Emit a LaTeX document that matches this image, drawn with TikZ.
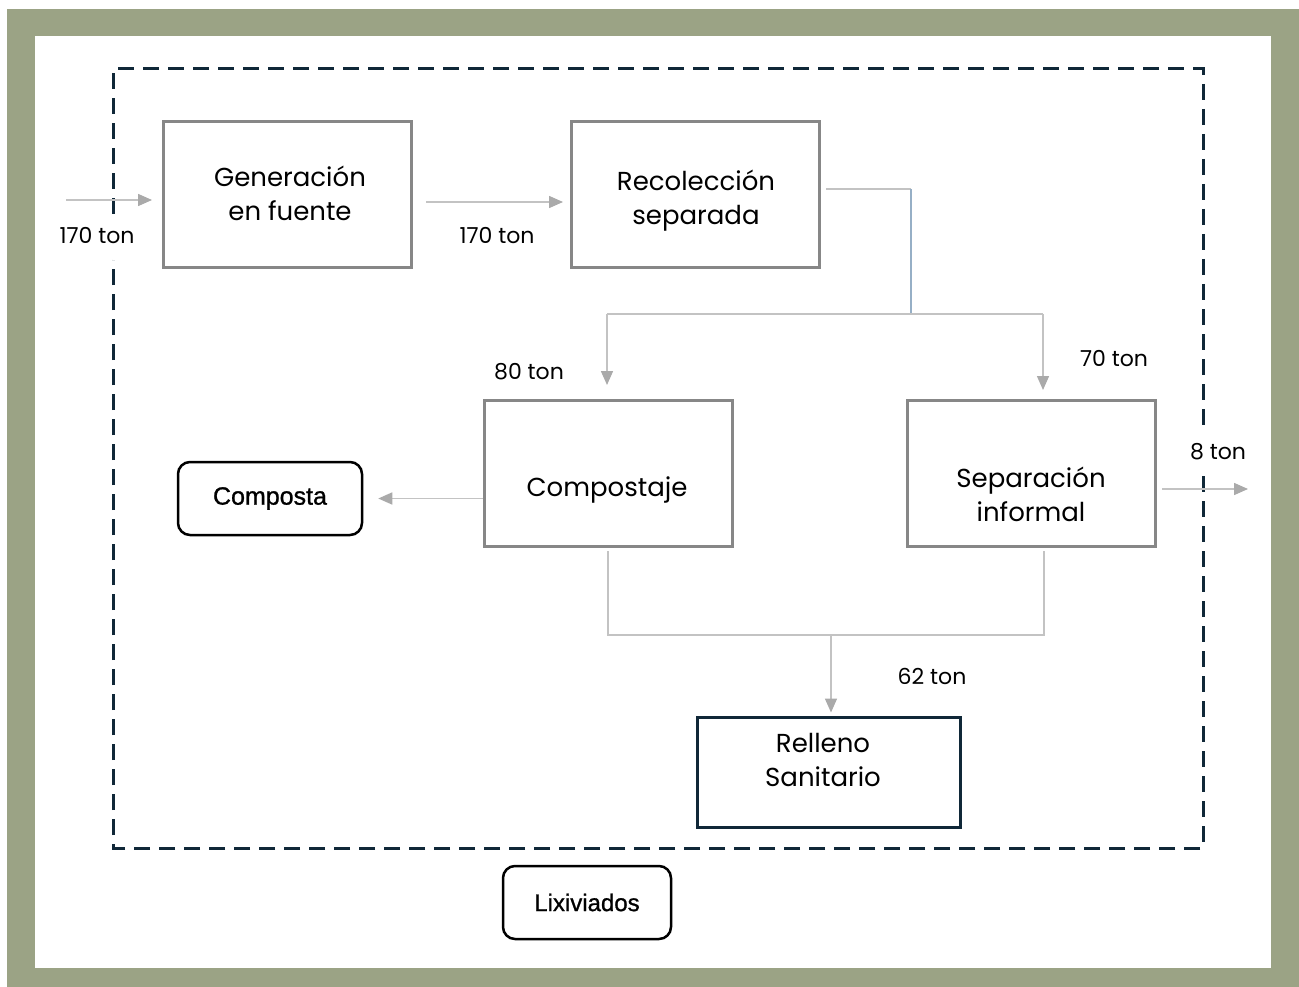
\documentclass[tikz,border=0pt]{standalone}
\usepackage{fontspec}
\setmainfont{Poppins}
\newfontfamily\cajafont[FakeBold=1]{Liberation Sans}
\usepackage{tikz}
\usetikzlibrary{arrows.meta}
\usepackage{xcolor}
\definecolor{marco}{RGB}{155,163,133}
\definecolor{marino}{RGB}{16,40,56}
\definecolor{borde}{RGB}{135,135,135}
\definecolor{trazo}{RGB}{195,195,195}
\definecolor{punta}{RGB}{170,170,170}
\definecolor{acero}{RGB}{150,175,198}

\begin{document}
\begin{tikzpicture}[x=1pt, y=-1pt,
  caja/.style={draw=borde, line width=3pt, minimum width=248pt, minimum height=146pt},
  texto/.style={align=center, font=\fontsize{26}{34}\selectfont},
  dato/.style={inner sep=4pt, font=\fontsize{22}{24}\selectfont},
  salida/.style={draw=black, line width=2.5pt, rounded corners=12pt, minimum width=184pt, minimum height=73pt, font=\cajafont\fontsize{25}{26}\selectfont},
  limite/.style={draw=marino, line width=3pt, dash pattern=on 16pt off 9pt},
  linea/.style={draw=trazo, line width=1.5pt},
  flujo/.style={linea, -{Triangle[length=14pt, width=12pt, color=punta]}}]
\useasboundingbox (0,0) rectangle (1299,987);

% Frame
\fill[white] (0,0) rectangle (1299,987);
\fill[marco] (7,9) rectangle (1299,987);
\fill[white] (35,36) rectangle (1271,968);

% System boundary (open where the amounts cross it)
\draw[limite] (113,214) -- (113,69) -- (1203,69) -- (1203,432);
\draw[limite] (1203,476) -- (1203,848) -- (113,848) -- (113,260);

% Stages
\node[caja] (gen) at (287.5,194.5) {};
\node[texto] (gen-txt) at (290,193) {Generación\\en fuente};
\node[caja] (rec) at (695.5,194.5) {};
\node[texto] (rec-txt) at (696,201) {Recolección\\separada};
\node[caja] (comp) at (608.5,473.5) {};
\node[texto] (comp-txt) at (607,490) {Compostaje};
\node[caja] (sep) at (1031.5,473.5) {};
\node[texto] (sep-txt) at (1031,494) {Separación\\informal};
\node[caja, draw=marino, minimum width=263pt, minimum height=110pt] (rell) at (828.5,772) {};
\node[texto] (rell-txt) at (823,760) {Relleno\\Sanitario};

% Products
\node[salida] (composta) at (270,498.5) {Composta};
\node[salida, minimum width=168pt, font=\fontsize{24}{26}\selectfont\cajafont] (lix) at (587,902.5) {Lixiviados};

% Branch points
\coordinate (entrada) at (66,200);
\coordinate (fuera) at (1248,489);
\coordinate (codo) at (911,189);
\coordinate (reparto) at (911,314);
\coordinate (ramaA) at (607,314);
\coordinate (ramaB) at (1043,314);
\coordinate (baseA) at (608,635);
\coordinate (baseB) at (1044,635);
\coordinate (junta) at (831,636);

% Flows
\draw[flujo, shorten >=10pt] (entrada) -- (entrada -| gen.west);
\draw[flujo, shorten <=13pt, shorten >=7pt] ([yshift=-7.5pt]gen.east) -- ([yshift=-7.5pt]rec.west);
\draw[linea, shorten <=5pt] ([yshift=5.5pt]rec.east) -- (codo);
\draw[linea, draw=acero] (codo) -- (reparto);
\draw[linea] (ramaA) -- (ramaB);
\draw[flujo, shorten >=14pt] (ramaA) -- (ramaA |- comp.north);
\draw[flujo, shorten >=9pt] (ramaB) -- (ramaB |- sep.north);
\draw[flujo, shorten >=15pt] (comp.west |- composta) -- (composta.east);
\draw[flujo, shorten <=5pt] (sep.east |- fuera) -- (fuera);
\draw[linea] ([yshift=-3pt]comp.south -| baseA) -- (baseA) -- (baseB) -- ([yshift=-3pt]sep.south -| baseB);
\draw[flujo, shorten >=3pt] (junta) -- (junta |- rell.north);

% Amounts
\node[dato] (t-entrada) at (97,236) {170 ton};
\node[dato] (t-gen) at (497,236) {170 ton};
\node[dato] (t-comp) at (529,372) {80 ton};
\node[dato] (t-sep) at (1114,359) {70 ton};
\node[dato] (t-fuera) at (1218,452) {8 ton};
\node[dato] (t-rell) at (932,676) {62 ton};
\end{tikzpicture}
\end{document}
